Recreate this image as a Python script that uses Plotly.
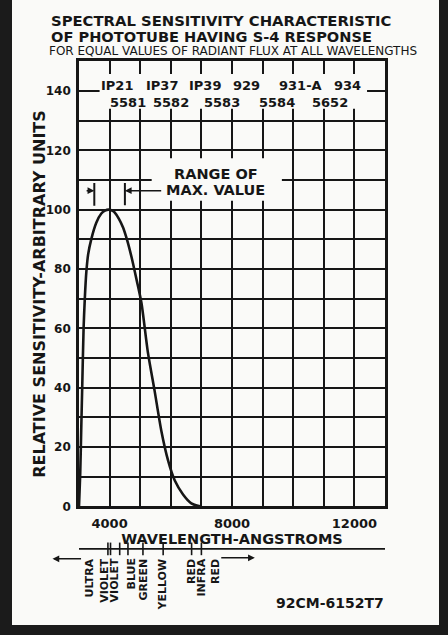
import plotly.graph_objects as go

# ---------------- data ----------------
wavelength = [3000, 3040, 3075, 3105, 3150, 3190, 3240, 3300, 3400, 3565, 3730, 3850,
              3980, 4100, 4170, 4300, 4440, 4580, 4710, 4890, 5040, 5250, 5470, 5690,
              5910, 6130, 6400, 6670, 6950]
sensitivity = [0, 11, 27, 40, 60, 70, 79, 85, 90, 95.6, 98.7, 99.7,
               100, 99.6, 99, 97, 94, 89.5, 84.3, 76, 68.6, 52, 39, 25.5,
               15.5, 8.7, 4, 1, 0]

x_ticks = [4000, 8000, 12000]
y_ticks = [0, 20, 40, 60, 80, 100, 120, 140]

tube_types = ["IP21", "IP37", "IP39", "929", "931-A", "934"]
tube_type_x = [4229, 5702, 7110, 8484, 10252, 11790]
tube_codes = ["5581", "5582", "5583", "5584", "5652"]
tube_code_x = [4589, 5997, 7666, 9466, 11201]

range_of_max = [3500, 4500]

spectrum_bounds = [3945, 4030, 4330, 4600, 5090, 5750, 6680, 7000]
spectrum_labels = ["ULTRA<br>VIOLET", "VIOLET", "BLUE", "GREEN", "YELLOW", "RED", "INFRA<br>RED"]
spectrum_label_x = [3591, 4164, 4704, 5113, 5735, 6684, 7241]

# ---------------- style ----------------
INK = "#161616"
PAPER = "#fafaf8"
EDGE = "#1b1b1b"
FONT = "DejaVu Sans"


def f(size, weight="bold"):
    return dict(family=FONT, size=size, color=INK, weight=weight)


W, H = 448, 635


def py(px):  # pixel row -> paper y
    return (H - px) / H


def pxx(px):  # pixel column -> paper x
    return px / W


fig = go.Figure()

# main curve
fig.add_trace(go.Scatter(
    x=wavelength, y=sensitivity, mode="lines",
    line=dict(color=INK, width=2.6, shape="spline", smoothing=0.7),
    hoverinfo="skip", showlegend=False))

# range of max value markers
fig.add_trace(go.Scatter(
    x=[range_of_max[0], range_of_max[0], None, range_of_max[1], range_of_max[1]],
    y=[101.3, 109, None, 101.5, 109],
    mode="lines", line=dict(color=INK, width=2), showlegend=False, hoverinfo="skip"))

# spectrum strip
fig.add_trace(go.Scatter(
    x=[3000, 13000], y=[70, 70], xaxis="x2", yaxis="y2", mode="lines",
    line=dict(color=INK, width=1.6), showlegend=False, hoverinfo="skip"))
fig.add_trace(go.Scatter(
    x=spectrum_bounds, y=[70] * len(spectrum_bounds), xaxis="x2", yaxis="y2",
    mode="markers", marker=dict(symbol="line-ns", size=9, line=dict(color=INK, width=1.6)),
    showlegend=False, hoverinfo="skip"))

grid = dict(showgrid=True, gridcolor=INK, gridwidth=1.7)
x_dom = [pxx(79), pxx(385)]

fig.update_layout(
    width=W, height=H, autosize=False,
    margin=dict(l=0, r=0, t=0, b=0),
    paper_bgcolor=EDGE, plot_bgcolor=PAPER,
    showlegend=False,
    xaxis=dict(
        domain=x_dom,
        range=[3000, 13000], tickmode="array", tickvals=x_ticks,
        ticktext=[str(v) for v in x_ticks], tickfont=f(13),
        ticks="", ticklabelstandoff=3,
        showline=True, linecolor=INK, linewidth=2.6, mirror=True,
        zeroline=False, anchor="y", **grid,
        minor=dict(tick0=3000, dtick=1000, ticks="", **grid),
        title=dict(text="WAVELENGTH-ANGSTROMS", font=f(14.5), standoff=0),
    ),
    yaxis=dict(
        range=[0, 150], domain=[py(512), py(62)], tickmode="array", tickvals=y_ticks,
        tickfont=f(12), ticks="", ticklabelstandoff=3,
        showline=True, linecolor=INK, linewidth=2.6, mirror=True,
        zeroline=False, **grid,
        minor=dict(tick0=0, dtick=10, ticks="", **grid),
    ),
    xaxis2=dict(domain=x_dom, range=[3000, 13000], anchor="y2", visible=False),
    yaxis2=dict(range=[0, 90], domain=[py(625), py(535)], visible=False),
)

# the card itself (light), leaving dark scanned edges around it
fig.add_shape(type="rect", xref="paper", yref="paper",
              x0=pxx(12), x1=pxx(439), y0=py(632), y1=1,
              fillcolor=PAPER, line=dict(width=0), layer="below")

# masks behind the in-plot labels (break the grid like the original)
fig.add_shape(type="rect", xref="x", yref="y", x0=3673, x1=12413, y0=134, y1=145.7,
              fillcolor=PAPER, line=dict(width=0), layer="above")
fig.add_shape(type="rect", xref="x", yref="y", x0=5375, x1=9630, y0=103, y1=117.3,
              fillcolor=PAPER, line=dict(width=0), layer="above")

ann = []
# titles
ann.append(dict(text="SPECTRAL SENSITIVITY CHARACTERISTIC", x=pxx(221), y=py(20.5),
                font=f(14.8)))
ann.append(dict(text="OF PHOTOTUBE HAVING S-4 RESPONSE", x=pxx(211.5), y=py(37),
                font=f(14.6)))
ann.append(dict(text="FOR EQUAL VALUES OF RADIANT FLUX AT ALL WAVELENGTHS", x=pxx(232.5),
                y=py(52), font=f(12, "normal")))
# y axis title
ann.append(dict(text="RELATIVE SENSITIVITY-ARBITRARY UNITS", x=pxx(40), y=py(297),
                textangle=-90, font=f(16)))
# figure code
ann.append(dict(text="92CM-6152T7", x=pxx(330), y=py(609.5), font=f(14)))
for a in ann:
    a.update(xref="paper", yref="paper", showarrow=False, xanchor="center", yanchor="middle")

# tube labels
for t, x in zip(tube_types, tube_type_x):
    ann.append(dict(text=t, x=x, y=141.7, xref="x", yref="y", showarrow=False, font=f(13)))
for t, x in zip(tube_codes, tube_code_x):
    ann.append(dict(text=t, x=x, y=136.0, xref="x", yref="y", showarrow=False, font=f(13)))

# range of max value
ann.append(dict(text="RANGE OF", x=7470, y=111.9, xref="x", yref="y", showarrow=False, font=f(14.5)))
ann.append(dict(text="MAX. VALUE", x=7470, y=106.5, xref="x", yref="y", showarrow=False, font=f(14.5)))
ann.append(dict(text="", x=range_of_max[0], y=106.4, ax=3200, ay=106.4, xref="x", yref="y",
                axref="x", ayref="y", showarrow=True, arrowhead=2, arrowsize=0.9,
                arrowwidth=1.5, arrowcolor=INK, standoff=0))
ann.append(dict(text="", x=range_of_max[1], y=106.4, ax=5735, ay=106.4, xref="x", yref="y",
                axref="x", ayref="y", showarrow=True, arrowhead=2, arrowsize=0.9,
                arrowwidth=1.5, arrowcolor=INK, standoff=0))

# spectrum labels
for t, x in zip(spectrum_labels, spectrum_label_x):
    ann.append(dict(text=t, x=x, y=62, xref="x2", yref="y2", showarrow=False, textangle=-90,
                    xanchor="center", yanchor="top", align="right", font=f(11)))
# spectrum direction arrows
ann.append(dict(text="", x=2134, y=60, ax=3116, ay=60, xref="x2", yref="y2", axref="x2",
                ayref="y2", showarrow=True, arrowhead=2, arrowsize=0.9, arrowwidth=1.5,
                arrowcolor=INK))
ann.append(dict(text="", x=8746, y=61, ax=7600, ay=61, xref="x2", yref="y2", axref="x2",
                ayref="y2", showarrow=True, arrowhead=2, arrowsize=0.9, arrowwidth=1.5,
                arrowcolor=INK))

fig.update_layout(annotations=ann)

fig.write_html("out.html", config={"displayModeBar": False},
               post_script="document.body.style.margin='0px';")
